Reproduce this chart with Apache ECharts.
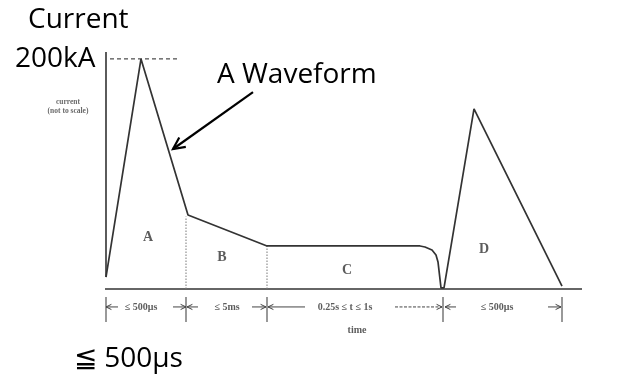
<!DOCTYPE html>
<html>
<head>
<meta charset="utf-8">
<script src="https://cdn.jsdelivr.net/npm/echarts@6/dist/echarts.min.js"></script>
<style>
  html, body { margin: 0; padding: 0; background: #fff; }
  #chart { width: 634px; height: 378px; }
</style>
</head>
<body>
<div id="chart"></div>
<script>
// Lightning current test waveform (components A-D), drawn schematically.
// x: schematic time units (not to scale), y: current in kA (peak 200 kA).

const peakCurrent = 200;                     // kA, stated by the "200kA" label
const waveTime    = [1, 36, 83, 162, 315, 320, 327, 331, 333, 336, 339, 369, 457];
const waveCurrent = [10.4, peakCurrent, 64.3, 37.4, 37.4, 36.5, 33.9, 29.5, 23.5, 0.9, 0.9, 156.5, 2.6];

// Component labels placed inside each area
const componentNames = ['A', 'B', 'C', 'D'];
const componentX     = [43, 117, 242, 379];
const componentY     = [45.2, 27.8, 16.5, 34.8];

// Duration brackets below the time axis
const boundaryTimes  = [1, 81, 162, 338, 457];
const durationLabels = ['≤ 500μs', '≤ 5ms', '0.25s ≤ t ≤ 1s', '≤ 500μs'];
const durationX      = [36, 122, 240, 392];

// Axis extent in data units
const timeEnd = 477;
const axisTop = 206;

// Scale: the chart area spans the whole canvas
const X_MIN = -105, X_MAX = 529;
const Y_MIN = -77.36, Y_MAX = 251.2;

const dimY = -15.6;       // level of the duration arrows
const tickTop = -7, tickBottom = -28.7;

// Plain segments: [x1, y1, x2, y2, style]
const segments = [];
segments.push([0, 0, timeEnd, 0, 'base']);              // time axis
segments.push([1, axisTop, 1, 10.4, 'axis']);           // current axis
segments.push([5, peakCurrent, 75, peakCurrent, 'dash']); // peak level
segments.push([81, 0, 81, 63, 'dot']);                  // A / B boundary
segments.push([162, 0, 162, 37.4, 'dot']);              // B / C boundary
boundaryTimes.forEach(t => segments.push([t, tickTop, t, tickBottom, 'tick']));

// Arrows: [tailX, tailY, headX, headY, headLength(px), style]
const arrows = [
  [148, 171.2, 68, 121.7, 13, 'big'],
  [13, dimY, 1, dimY, 6, 'dim'],   [68, dimY, 81, dimY, 6, 'dim'],
  [93, dimY, 82, dimY, 6, 'dim'],  [147, dimY, 161, dimY, 6, 'dim'],
  [200, dimY, 163, dimY, 6, 'dim'],[290, dimY, 337, dimY, 6, 'dimdash'],
  [351, dimY, 340, dimY, 6, 'dim'],[443, dimY, 456, dimY, 6, 'dim']
];

const segStyles = {
  base: { stroke: '#333', lineWidth: 1.7 },
  axis: { stroke: '#333', lineWidth: 1.6 },
  dash: { stroke: '#222', lineWidth: 1, lineDash: [4, 3] },
  dot:  { stroke: '#777', lineWidth: 1, lineDash: [1.5, 1.5] },
  tick: { stroke: '#555', lineWidth: 1.2 }
};

const serif = '"Liberation Serif", "DejaVu Serif", serif';
const sans = '"Open Sans", "Noto Sans", sans-serif';

const chart = echarts.init(document.getElementById('chart'), null, { renderer: 'canvas' });

chart.setOption({
  animation: false,
  backgroundColor: '#fff',
  grid: { left: 0, right: 0, top: 0, bottom: 0 },
  xAxis: { type: 'value', min: X_MIN, max: X_MAX, show: false },
  yAxis: { type: 'value', min: Y_MIN, max: Y_MAX, show: false },
  graphic: [
    { type: 'text', left: 28, top: 6, style: { text: 'Current', font: '28px ' + sans, fill: '#000' } },
    { type: 'text', left: 15, top: 45, style: { text: '200kA', font: '28px ' + sans, fill: '#000' } },
    { type: 'text', left: 217, top: 61, style: { text: 'A Waveform', font: '28px ' + sans, fill: '#000' } },
    { type: 'text', left: 74, top: 345, style: { text: '≦ 500μs', font: '28px ' + sans, fill: '#000' } }
  ],
  series: [
    {
      type: 'line',
      data: waveTime.map((t, i) => [t, waveCurrent[i]]),
      symbol: 'none',
      clip: false,
      lineStyle: { color: '#333', width: 1.7 }
    },
    {
      type: 'custom',
      data: segments,
      clip: false,
      renderItem: (params, api) => {
        const s = segments[params.dataIndex];
        const p1 = api.coord([s[0], s[1]]);
        const p2 = api.coord([s[2], s[3]]);
        return {
          type: 'line',
          shape: { x1: p1[0], y1: p1[1], x2: p2[0], y2: p2[1] },
          style: Object.assign({ fill: null }, segStyles[s[4]])
        };
      }
    },
    {
      type: 'custom',
      data: arrows,
      clip: false,
      renderItem: (params, api) => {
        const a = arrows[params.dataIndex];
        const p1 = api.coord([a[0], a[1]]);
        const p2 = api.coord([a[2], a[3]]);
        const ang = Math.atan2(p2[1] - p1[1], p2[0] - p1[0]);
        const h = a[4], spread = 0.45;
        const hA = [p2[0] - h * Math.cos(ang - spread), p2[1] - h * Math.sin(ang - spread)];
        const hB = [p2[0] - h * Math.cos(ang + spread), p2[1] - h * Math.sin(ang + spread)];
        const big = a[5] === 'big';
        const style = {
          stroke: big ? '#000' : '#444',
          lineWidth: big ? 2.2 : 1,
          fill: null
        };
        const shaftStyle = Object.assign({}, style);
        if (a[5] === 'dimdash') shaftStyle.lineDash = [3, 1.5];
        return {
          type: 'group',
          children: [
            { type: 'line', shape: { x1: p1[0], y1: p1[1], x2: p2[0], y2: p2[1] }, style: shaftStyle },
            { type: 'polyline', shape: { points: [hA, p2, hB] }, style: style }
          ]
        };
      }
    },
    {
      type: 'scatter',
      symbolSize: 0,
      clip: false,
      data: componentNames.map((n, i) => ({ value: [componentX[i], componentY[i]], name: n })),
      label: {
        show: true, position: 'inside', formatter: p => p.name,
        fontFamily: serif, fontSize: 14, fontWeight: 'bold', color: '#333'
      }
    },
    {
      type: 'scatter',
      symbolSize: 0,
      clip: false,
      data: durationLabels.map((n, i) => ({ value: [durationX[i], dimY], name: n }))
        .concat([{ value: [252, -35.6], name: 'time' }]),
      label: {
        show: true, position: 'inside', formatter: p => p.name,
        fontFamily: serif, fontSize: 10, fontWeight: 'bold', color: '#333'
      }
    },
    {
      type: 'scatter',
      symbolSize: 0,
      clip: false,
      data: [{ value: [-37, 159], name: 'current\n(not to scale)' }],
      label: {
        show: true, position: 'inside', formatter: p => p.name,
        fontFamily: serif, fontSize: 7.5, fontWeight: 'bold', color: '#444', lineHeight: 9
      }
    }
  ]
});
</script>
</body>
</html>
